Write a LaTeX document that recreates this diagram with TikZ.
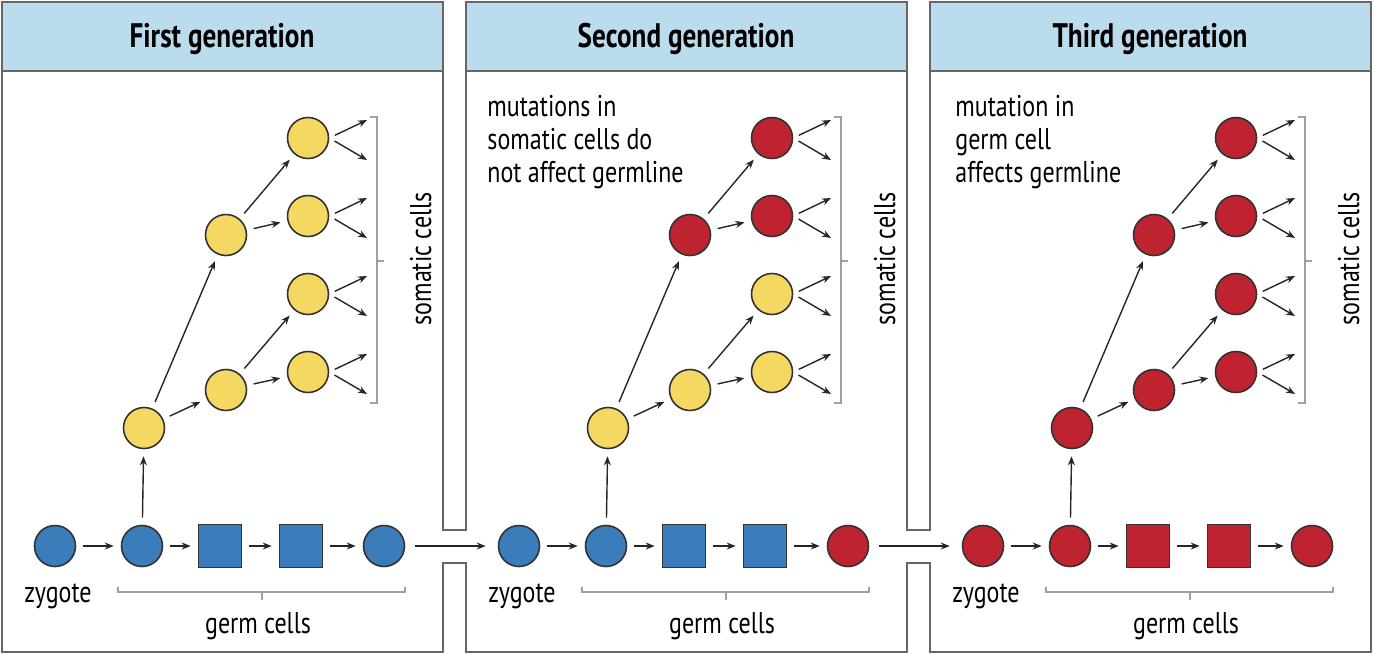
\documentclass[tikz,border=0pt]{standalone}
\usepackage{fontspec}
\setmainfont[FakeStretch=0.8]{PT Sans}
\usetikzlibrary{arrows.meta,positioning,calc}

\definecolor{cellblue}{HTML}{3A7DBA}
\definecolor{cellyellow}{HTML}{F5D862}
\definecolor{cellred}{HTML}{BF2330}
\definecolor{headblue}{HTML}{BADCEC}
\definecolor{framegray}{HTML}{666666}

\begin{document}
\begin{tikzpicture}[x=0.5pt,y=0.5pt,font=\fontsize{15}{16.5}\selectfont,
  >={Stealth[length=4.5pt,width=3.5pt]},
  cell/.style={circle,draw=black!80,line width=0.8pt,minimum size=20.5pt,inner sep=0pt},
  sq/.style={rectangle,draw=black!80,line width=0.8pt,minimum size=21.5pt,inner sep=0pt},
  link/.style={->,line width=0.7pt,black!85,shorten <=3.5pt,shorten >=3.5pt},
  brace/.style={line width=0.6pt,gray!75},
  frame/.style={line width=1.2pt,framegray},
  lbl/.style={inner sep=0pt},
  title/.style={font=\fontsize{17}{18}\selectfont\bfseries,inner sep=0pt},
]

\useasboundingbox (0,0) rectangle (1374,-654);

\foreach \p/\dx/\name/\gc/\gl/\tc/\rc in {
  1/0/First generation/cellblue/cellblue/cellyellow/cellyellow,
  2/464/Second generation/cellblue/cellred/cellred/cellyellow,
  3/928/Third generation/cellred/cellred/cellred/cellred}{
\begin{scope}[shift={(\dx,0)}]
\fill[headblue] (2,-2) rectangle (443,-71);
\draw[frame] (2,-71) -- (443,-71);
\node[title,anchor=base] (t\p) at (222,-47) {\name};

% germ line
\node[cell,fill=\gc] (z\p) at (55,-546) {};
\node[cell,fill=\gc] (ga\p) at (142,-546) {};
\node[sq,fill=\gc] (gb\p) at (220,-546) {};
\node[sq,fill=\gc] (gc\p) at (301,-546) {};
\node[cell,fill=\gl] (gd\p) at (384,-546) {};
\draw[link] (z\p) -- (ga\p);
\draw[link] (ga\p) -- (gb\p);
\draw[link] (gb\p) -- (gc\p);
\draw[link] (gc\p) -- (gd\p);
\draw[brace] (118,-587) -- (118,-592) -- (405,-592) -- (405,-587) (262,-592) -- (262,-600);
\node[lbl,anchor=base] (zl\p) at (58,-602) {zygote};
\node[lbl,anchor=base] (gl\p) at (258,-633) {germ cells};

% somatic tree
\node[cell,fill=\rc] (r\p) at (144,-428) {};
\node[cell,fill=\tc] (u\p) at (226,-235) {};
\node[cell,fill=\rc] (l\p) at (226,-390) {};
\node[cell,fill=\tc] (sa\p) at (308,-138) {};
\node[cell,fill=\tc] (sb\p) at (308,-216) {};
\node[cell,fill=\rc] (sc\p) at (308,-294) {};
\node[cell,fill=\rc] (sd\p) at (308,-372) {};
\draw[link] (ga\p) -- (r\p);
\draw[link] (r\p) -- (u\p);
\draw[link] (r\p) -- (l\p);
\draw[link] (u\p) -- (sa\p);
\draw[link] (u\p) -- (sb\p);
\draw[link] (l\p) -- (sc\p);
\draw[link] (l\p) -- (sd\p);
\foreach \s/\y in {sa/138,sb/216,sc/294,sd/372}{
  \coordinate (\s\p u) at (367,-\y+18);
  \coordinate (\s\p d) at (367,-\y-22);
  \draw[link,shorten >=0pt,shorten <=3pt] (\s\p.east) -- (\s\p u);
  \draw[link,shorten >=0pt,shorten <=3pt] (\s\p.east) -- (\s\p d);
}
\draw[brace] (370,-117) -- (377,-117) -- (377,-403) -- (370,-403) (377,-261) -- (384,-261);
\node[lbl,rotate=90,anchor=base] (sl\p) at (431,-259) {somatic cells};
\end{scope}
}

\node[lbl,anchor=north west,align=left] (note2) at (487,-95)
  {mutations in\\somatic cells do\\not affect germline};
\node[lbl,anchor=north west,align=left] (note3) at (955,-95)
  {mutation in\\germ cell\\affects germline};

% germline passes on to the next generation
\draw[link,shorten <=5pt,shorten >=6pt] (gd1) -- (z2);
\draw[link,shorten <=5pt,shorten >=6pt] (gd2) -- (z3);

\draw[frame] (2,-2) -- (443,-2) -- (443,-530) -- (466,-530) -- (466,-2) -- (907,-2)
  -- (907,-530) -- (930,-530) -- (930,-2) -- (1371,-2) -- (1371,-652) -- (930,-652)
  -- (930,-563) -- (907,-563) -- (907,-652) -- (466,-652) -- (466,-563) -- (443,-563)
  -- (443,-652) -- (2,-652) -- cycle;

\end{tikzpicture}
\end{document}
